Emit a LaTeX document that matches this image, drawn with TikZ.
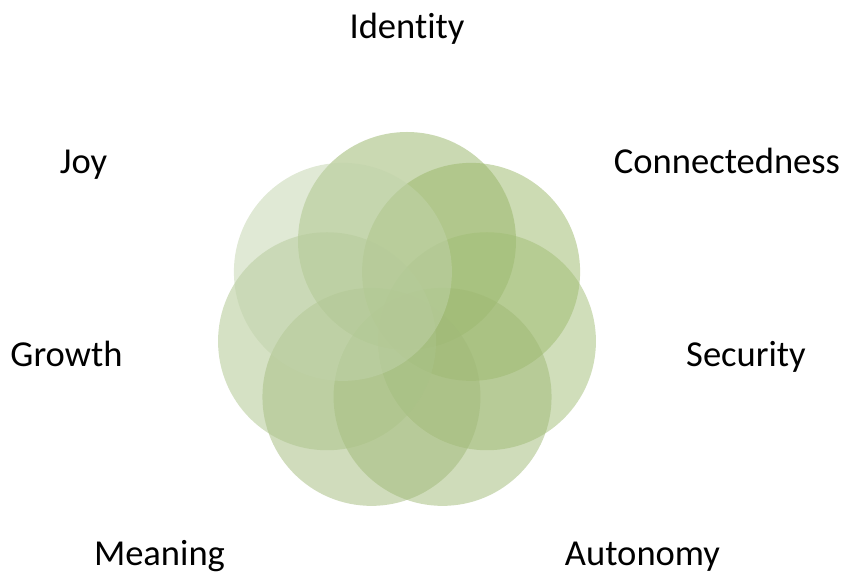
\documentclass[tikz,border=0pt]{standalone}
\usepackage{fontspec}
\setmainfont{Carlito}[Ligatures=NoCommon]
\usepackage{tikz}
\usetikzlibrary{positioning}
\definecolor{leaf1}{RGB}{149,179,101}
\definecolor{leaf2}{RGB}{153,183,103}
\definecolor{leaf3}{RGB}{161,189,117}
\definecolor{leaf4}{RGB}{159,185,117}
\definecolor{leaf5}{RGB}{161,185,121}
\definecolor{leaf6}{RGB}{171,195,137}
\definecolor{leaf7}{RGB}{193,211,171}

\begin{document}
\begin{tikzpicture}
[align=center,font=\fontsize{20.8}{25}\selectfont]
\tikzstyle{petal}=[circle,minimum size=4.36cm,inner sep=0pt,fill opacity=0.5]
\tikzstyle{word}=[anchor=base,inner sep=0pt]

\useasboundingbox (-8.14,-5.04) rectangle (8.72,6.46);

\draw node [petal,fill=leaf1] (identity) at (90:1.64) {};
\draw node [petal,fill=leaf2] (connected) at (38.57:1.64) {};
\draw node [petal,fill=leaf3] (security) at (-12.86:1.64) {};
\draw node [petal,fill=leaf4] (autonomy) at (-64.29:1.64) {};
\draw node [petal,fill=leaf5] (meaning) at (-115.71:1.64) {};
\draw node [petal,fill=leaf6] (growth) at (-167.14:1.64) {};
\draw node [petal,fill=leaf7] (joy) at (141.43:1.64) {};

\draw node [word] (identitytext) at (0,5.68) {Identity};
\draw node [word] (connectedtext) at (6.4,2.98) {Connectedness};
\draw node [word] (joytext) at (-6.47,2.98) {Joy};
\draw node [word] (securitytext) at (6.78,-0.88) {Security};
\draw node [word] (growthtext) at (-6.81,-0.88) {Growth};
\draw node [word] (autonomytext) at (4.71,-4.86) {Autonomy};
\draw node [word] (meaningtext) at (-4.95,-4.86) {Meaning};

\end{tikzpicture}
\end{document}
